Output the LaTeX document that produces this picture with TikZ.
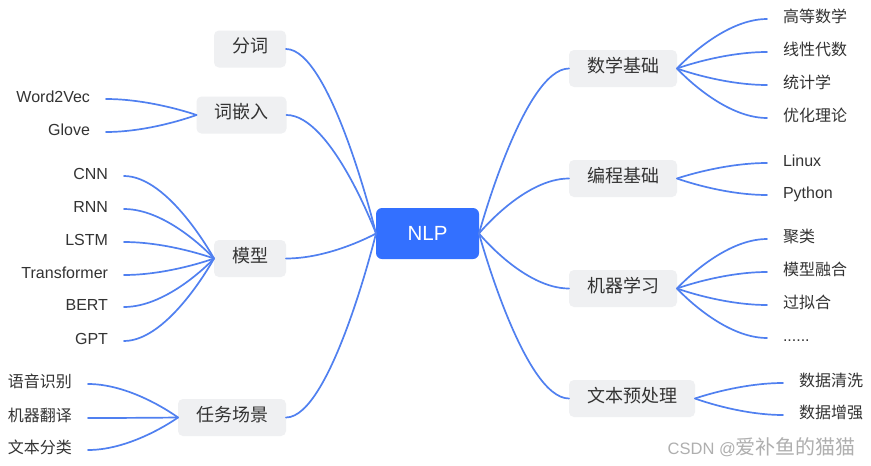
\documentclass[tikz,border=0pt]{standalone}
\usepackage{fontspec}
\setmainfont{Liberation Sans}
\newfontfamily\cjk{Noto Sans CJK SC}
\usetikzlibrary{calc,backgrounds}
\definecolor{linec}{RGB}{80,128,240}
\definecolor{nlpblue}{RGB}{51,112,255}
\definecolor{boxgray}{RGB}{239,240,242}
\definecolor{txt}{RGB}{51,51,51}
\definecolor{wm}{RGB}{175,175,175}
\begin{document}
\begin{tikzpicture}[x=1pt,y=-1pt,
  topic/.style={fill=boxgray, rounded corners=5pt, minimum height=37pt, inner xsep=18pt, inner ysep=0pt,
    outer sep=0pt, text=txt, font=\cjk\fontsize{18}{18}\selectfont, text height=0.88em, text depth=0.12em},
  leaf/.style={inner xsep=16pt, inner ysep=0pt, outer sep=0pt, text=txt,
    font=\fontsize{16}{16}\selectfont, text height=0.86em, text depth=0.14em},
  leafr/.style={leaf, anchor=west},
  leafl/.style={leaf, anchor=east},
  branch/.style={line width=1.7pt, draw=linec, line cap=round,
    to path={let \p1=(\tikztostart), \p2=(\tikztotarget) in
      .. controls ({(\x1+\x2)/2},\y1) and (\p2) .. (\p2)}}
]
\useasboundingbox[fill=white] (0,0) rectangle (871,466);

% central node
\node[fill=nlpblue, rounded corners=6pt, minimum width=103pt, minimum height=51pt, inner sep=0pt,
  outer sep=0pt, text=white, font=\fontsize{20.5}{20.5}\selectfont] (nlp) at (427.5,233.5) {NLP};
\begin{scope}[on background layer]
  \foreach \d/\o in {8/0.03,6/0.04,4/0.05,2/0.06}
    \fill[nlpblue, opacity=\o, rounded corners=9pt] ([shift={(-\d,-\d+2)}]nlp.north west) rectangle ([shift={(\d,\d+2)}]nlp.south east);
\end{scope}

% left topics
\node[topic] (fenci) at (250,49) {分词};
\node[topic] (qianru) at (241.5,115) {词嵌入};
\node[topic] (moxing) at (250,258.5) {模型};
\node[topic] (renwu) at (232,417.5) {任务场景};

% right topics
\node[topic] (shuxue) at (623,68.5) {数学基础};
\node[topic] (biancheng) at (623,178.5) {编程基础};
\node[topic] (jiqi) at (623,288.5) {机器学习};
\node[topic] (yuchuli) at (632,398.5) {文本预处理};

\foreach \c in {fenci,qianru,moxing,renwu}
  \draw[branch] (\c.east) to (nlp.west);
\foreach \c in {shuxue,biancheng,jiqi,yuchuli}
  \draw[branch] (\c.west) to (nlp.east);

% leaves of 词嵌入
\node[leafl] (w2v) at (106,99) {Word2Vec};
\node[leafl] (glove) at (106,132) {Glove};
\foreach \c in {w2v,glove} \draw[branch] (\c.east) to (qianru.west);

% leaves of 模型
\node[leafl] (cnn) at (124,176) {CNN};
\node[leafl] (rnn) at (124,209) {RNN};
\node[leafl] (lstm) at (124,242) {LSTM};
\node[leafl] (trans) at (124,275) {Transformer};
\node[leafl] (bert) at (124,307) {BERT};
\node[leafl] (gpt) at (124,341) {GPT};
\foreach \c in {cnn,rnn,lstm,trans,bert,gpt} \draw[branch] (\c.east) to (moxing.west);

% leaves of 任务场景
\node[leafl, font=\cjk\fontsize{16}{16}\selectfont] (yuyin) at (88,384) {语音识别};
\node[leafl, font=\cjk\fontsize{16}{16}\selectfont] (fanyi) at (88,418) {机器翻译};
\node[leafl, font=\cjk\fontsize{16}{16}\selectfont] (fenlei) at (88,450) {文本分类};
\foreach \c in {yuyin,fanyi,fenlei} \draw[branch] (\c.east) to (renwu.west);

% leaves of 数学基础
\node[leafr, font=\cjk\fontsize{16}{16}\selectfont] (gaoshu) at (767,19) {高等数学};
\node[leafr, font=\cjk\fontsize{16}{16}\selectfont] (xiandai) at (767,52) {线性代数};
\node[leafr, font=\cjk\fontsize{16}{16}\selectfont] (tongji) at (767,85) {统计学};
\node[leafr, font=\cjk\fontsize{16}{16}\selectfont] (youhua) at (767,118) {优化理论};
\foreach \c in {gaoshu,xiandai,tongji,youhua} \draw[branch] (\c.west) to (shuxue.east);

% leaves of 编程基础
\node[leafr] (linux) at (767,163) {Linux};
\node[leafr] (python) at (767,195) {Python};
\foreach \c in {linux,python} \draw[branch] (\c.west) to (biancheng.east);

% leaves of 机器学习
\node[leafr, font=\cjk\fontsize{16}{16}\selectfont] (julei) at (767,239) {聚类};
\node[leafr, font=\cjk\fontsize{16}{16}\selectfont] (ronghe) at (767,272) {模型融合};
\node[leafr, font=\cjk\fontsize{16}{16}\selectfont] (guonihe) at (767,305) {过拟合};
\node[leafr] (dots) at (767,338) {......};
\foreach \c in {julei,ronghe,guonihe,dots} \draw[branch] (\c.west) to (jiqi.east);

% leaves of 文本预处理
\node[leafr, font=\cjk\fontsize{16}{16}\selectfont] (qingxi) at (783,383) {数据清洗};
\node[leafr, font=\cjk\fontsize{16}{16}\selectfont] (zengqiang) at (783,415) {数据增强};
\foreach \c in {qingxi,zengqiang} \draw[branch] (\c.west) to (yuchuli.east);

% watermark
\node[anchor=east, inner sep=0pt, text=wm, font=\fontsize{16.5}{16.5}\selectfont] (wmark) at (856,447)
  {CSDN @{\cjk\fontsize{20}{20}\selectfont 爱补鱼的猫猫}};
\end{tikzpicture}
\end{document}
